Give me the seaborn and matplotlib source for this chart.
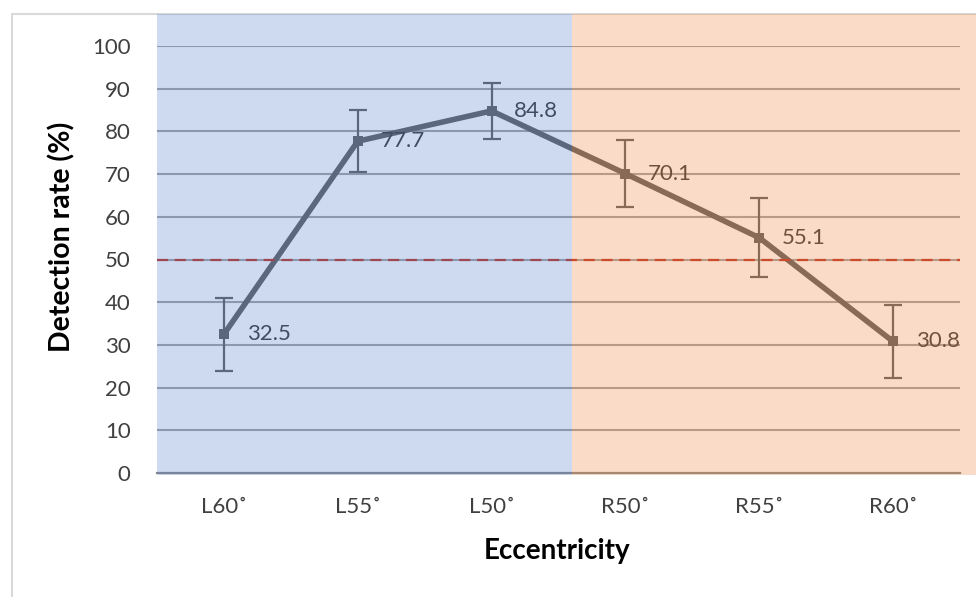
import matplotlib
matplotlib.use("Agg")
import matplotlib.pyplot as plt
import seaborn as sns
import pandas as pd
from matplotlib.patches import Rectangle
from matplotlib.lines import Line2D

categories = ["L60˚", "L55˚", "L50˚", "R50˚", "R55˚", "R60˚"]
rates = [32.5, 77.7, 84.8, 70.1, 55.1, 30.8]
errors = [8.5, 7.3, 6.6, 7.9, 9.2, 8.5]
threshold = 50
yticks = [0, 10, 20, 30, 40, 50, 60, 70, 80, 90, 100]

sns.set_theme(style="white")
plt.rcParams['font.family'] = ['Lato', 'DejaVu Sans']

df = pd.DataFrame({"cat": categories, "rate": rates, "err": errors})

fig = plt.figure(figsize=(9.76, 5.97), dpi=100)
W, H = 976, 597
ax = fig.add_axes([157 / W, 1 - 473 / H, (960 - 157) / W, (473 - 46) / H])

line_col = "#646464"
for y in yticks[1:]:
    ax.axhline(y, color="#a6a6a6", lw=1.5, zorder=1)

sns.lineplot(data=df, x="cat", y="rate", ax=ax, color=line_col, lw=4,
             marker="s", markersize=7.5, markeredgewidth=0, sort=False, zorder=3)
ax.errorbar(range(len(categories)), rates, yerr=errors, fmt="none",
            ecolor=line_col, elinewidth=1.6, capsize=6.5, capthick=1.6, zorder=3)
ax.axhline(threshold, color="#c0392b", lw=1.6, ls=(0, (5, 3)), zorder=4)

for i, v in enumerate(rates):
    ax.text(i + 0.17, v, f"{v}", fontsize=16, color="#404040",
            va="center", ha="left", zorder=5)

ax.set_xlim(-0.5, len(categories) - 0.5)
ax.set_ylim(0, 100)
ax.set_yticks(yticks)
ax.tick_params(axis="y", length=0, pad=19, labelsize=16, labelcolor="#404040")
ax.tick_params(axis="x", length=0, pad=17, labelsize=16, labelcolor="#404040")
for s in ["top", "right", "left"]:
    ax.spines[s].set_visible(False)
ax.spines["bottom"].set_color("#8c8c8c")
ax.spines["bottom"].set_linewidth(1.6)
ax.set_xlabel("")
ax.set_ylabel("")

fig.text(62 / W, 1 - 237 / H, "Detection rate (%)", rotation=90, fontsize=20.5,
         fontweight="bold", ha="center", va="center", color="black")
fig.text(557 / W, 1 - 551 / H, "Eccentricity", fontsize=20,
         fontweight="bold", ha="center", va="center", color="black")

# translucent overlay regions
fig.patches.append(Rectangle((157 / W, 1 - 475 / H), (572 - 157) / W, (475 - 14) / H,
                             transform=fig.transFigure, facecolor="#4472c4",
                             alpha=0.26, edgecolor="none", zorder=10))
fig.patches.append(Rectangle((572 / W, 1 - 475 / H), (976 - 572) / W, (475 - 14) / H,
                             transform=fig.transFigure, facecolor="#ed7d31",
                             alpha=0.27, edgecolor="none", zorder=10))

# outer chart border
fig.lines.append(Line2D([12 / W, 12 / W], [0, 1 - 14 / H], transform=fig.transFigure,
                        color="#d9d9d9", lw=1.5))
fig.lines.append(Line2D([12 / W, 1], [1 - 14 / H, 1 - 14 / H], transform=fig.transFigure,
                        color="#d9d9d9", lw=1.5))

fig.savefig("out.png", dpi=100)
